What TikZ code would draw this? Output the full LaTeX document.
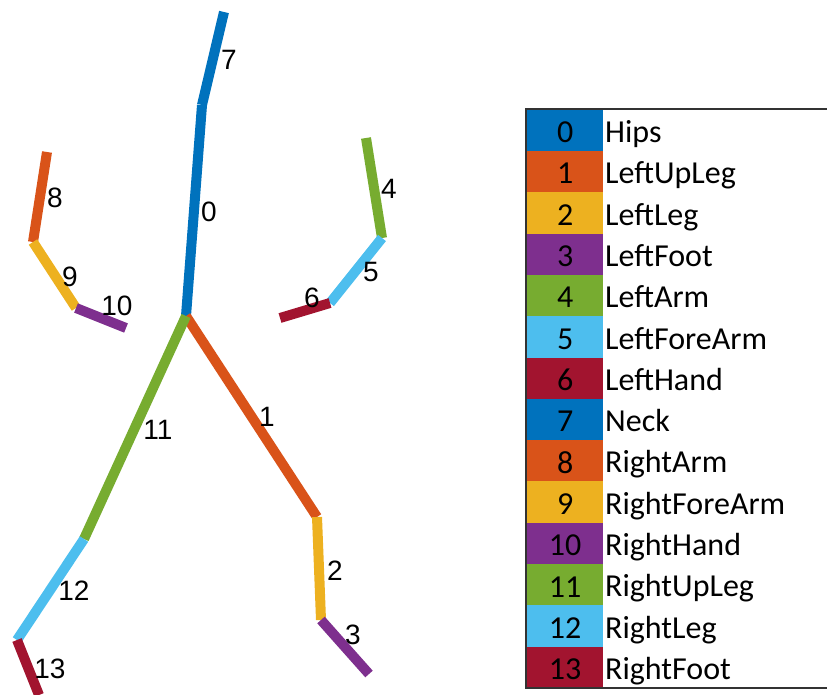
\documentclass[tikz,border=0pt]{standalone}
\usepackage{fontspec}
\setmainfont{Carlito}
\newfontfamily\labfont{Liberation Sans}
\definecolor{cA}{RGB}{0,114,189}
\definecolor{cB}{RGB}{217,83,25}
\definecolor{cC}{RGB}{237,177,32}
\definecolor{cD}{RGB}{126,47,142}
\definecolor{cE}{RGB}{119,172,48}
\definecolor{cF}{RGB}{77,190,238}
\definecolor{cG}{RGB}{162,20,47}
\tikzset{
  bone/.style={line width=10pt, line cap=butt},
  blab/.style={font=\labfont\fontsize{28}{28}\selectfont, inner sep=0pt},
  cell/.style={minimum width=76pt, minimum height=41.3pt, inner sep=0pt, text height=24.7pt, text depth=0pt, anchor=north west, font=\fontsize{32}{32}\selectfont},
  lname/.style={anchor=base west, inner sep=0pt, font=\fontsize{32}{32}\selectfont},
}
\begin{document}
\begin{tikzpicture}[x=1pt,y=-1pt]
\useasboundingbox (0,0) rectangle (827,695);
% joints
\coordinate (head) at (224,12);
\coordinate (neck) at (202,105);
\coordinate (hips) at (186,316);
\coordinate (lsh) at (366,138);
\coordinate (lel) at (382,238);
\coordinate (lwr) at (330,303);
\coordinate (lha) at (280,318);
\coordinate (rsh) at (47,152);
\coordinate (rel) at (33,242);
\coordinate (rwr) at (76,308);
\coordinate (rha) at (126,328);
\coordinate (lkn) at (317,517);
\coordinate (lan) at (321,620);
\coordinate (lto) at (369,674);
\coordinate (rkn) at (84,539);
\coordinate (ran) at (17,640);
\coordinate (rto) at (39,695);
% bones
\draw[bone,cA] (hips) -- (neck);
\draw[bone,cA] (neck) -- (head);
\draw[bone,cB] (hips) -- (lkn);
\draw[bone,cC] (lkn) -- (lan);
\draw[bone,cD] (lan) -- (lto);
\draw[bone,cE] (lsh) -- (lel);
\draw[bone,cF] (lel) -- (lwr);
\draw[bone,cG] (lwr) -- (lha);
\draw[bone,cB] (rsh) -- (rel);
\draw[bone,cC] (rel) -- (rwr);
\draw[bone,cD] (rwr) -- (rha);
\draw[bone,cE] (hips) -- (rkn);
\draw[bone,cF] (rkn) -- (ran);
\draw[bone,cG] (ran) -- (rto);
% bone labels
\node[blab] (l0) at (209,212) {0};
\node[blab] (l1) at (267,417) {1};
\node[blab] (l2) at (335,571) {2};
\node[blab] (l3) at (353,635) {3};
\node[blab] (l4) at (389,189) {4};
\node[blab] (l5) at (371,272) {5};
\node[blab] (l6) at (312,298) {6};
\node[blab] (l7) at (229,60) {7};
\node[blab] (l8) at (55,198) {8};
\node[blab] (l9) at (70,277) {9};
\node[blab] (l10) at (117,306) {10};
\node[blab] (l11) at (158,430) {11};
\node[blab] (l12) at (74,591) {12};
\node[blab] (l13) at (50,669) {13};
% legend
\foreach \i/\c/\n in {0/cA/Hips,1/cB/LeftUpLeg,2/cC/LeftLeg,3/cD/LeftFoot,4/cE/LeftArm,5/cF/LeftForeArm,6/cG/LeftHand,7/cA/Neck,8/cB/RightArm,9/cC/RightForeArm,10/cD/RightHand,11/cE/RightUpLeg,12/cF/RightLeg,13/cG/RightFoot}{
  \node[cell, fill=\c] (c\i) at (527,{109.5+41.3*\i}) {\i};
  \node[lname] (n\i) at (605,{109.5+41.3*\i+33}) {\n};
}
\draw[line width=1.5pt, black!80] (827,109) -- (526,109) -- (526,688) -- (827,688);
\end{tikzpicture}
\end{document}
